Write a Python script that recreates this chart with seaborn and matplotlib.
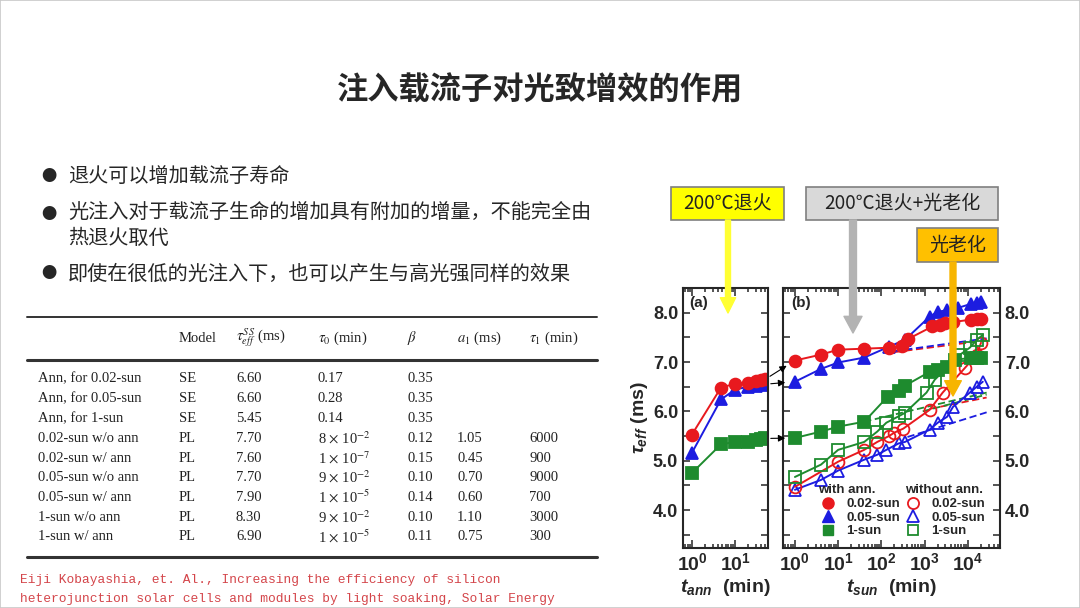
import matplotlib
matplotlib.use("Agg")
import matplotlib.pyplot as plt
import seaborn as sns
import numpy as np
from matplotlib.lines import Line2D
from matplotlib.patches import Rectangle, FancyArrowPatch
from matplotlib.ticker import LogLocator, NullFormatter

W, H = 1080, 608
CJK = ["Noto Sans CJK SC", "DejaVu Sans"]

# ---- slide text ----
TITLE = "注入载流子对光致增效的作用"
BULLETS = ["退火可以增加载流子寿命",
           "光注入对于载流子生命的增加具有附加的增量，不能完全由\n热退火取代",
           "即使在很低的光注入下，也可以产生与高光强同样的效果"]
CITATION = ["Eiji Kobayashia, et. Al., Increasing the efficiency of silicon",
            "heterojunction solar cells and modules by light soaking, Solar Energy"]

# ---- table ----
COL_HEADERS = ["Model", r"$\tau_{eff}^{SS}$ (ms)", r"$\tau_0$ (min)", r"$\beta$",
               r"$a_1$ (ms)", r"$\tau_1$ (min)"]
ROW_NAMES = ["Ann, for 0.02-sun", "Ann, for 0.05-sun", "Ann, for 1-sun",
             "0.02-sun w/o ann", "0.02-sun w/ ann", "0.05-sun w/o ann",
             "0.05-sun w/ ann", "1-sun w/o ann", "1-sun w/ ann"]
MODELS = ["SE", "SE", "SE", "PL", "PL", "PL", "PL", "PL", "PL"]
TAU_SS = ["6.60", "6.60", "5.45", "7.70", "7.60", "7.70", "7.90", "8.30", "6.90"]
TAU_0 = ["0.17", "0.28", "0.14", r"8 $\times$ 10$^{-2}$", r"1 $\times$ 10$^{-7}$",
         r"9 $\times$ 10$^{-2}$", r"1 $\times$ 10$^{-5}$", r"9 $\times$ 10$^{-2}$",
         r"1 $\times$ 10$^{-5}$"]
BETA = ["0.35", "0.35", "0.35", "0.12", "0.15", "0.10", "0.14", "0.10", "0.11"]
A_1 = ["", "", "", "1.05", "0.45", "0.70", "0.60", "1.10", "0.75"]
TAU_1 = ["", "", "", "6000", "900", "9000", "700", "3000", "300"]

# ---- panel (a): annealing ----
ANN_T = [1, 4.7, 10, 20, 30, 40, 50]
ANN_RED = [5.53, 6.48, 6.56, 6.58, 6.62, 6.64, 6.65]
ANN_BLUE = [5.16, 6.24, 6.44, 6.50, 6.52, 6.54, 6.55]
ANN_GREEN = [4.75, 5.33, 5.38, 5.38, 5.41, 5.43, 5.45]

# ---- panel (b): light soaking ----
RED_W_T = [1, 4, 10, 40, 150, 300, 420, 1500, 2200, 3000, 4500, 12000, 16000, 20000]
RED_W = [7.03, 7.15, 7.25, 7.27, 7.29, 7.33, 7.47, 7.72, 7.76, 7.79, 7.81, 7.86, 7.87, 7.87]
BLUE_W_T = [1, 4, 10, 40, 150, 350, 1300, 2000, 3300, 6000, 12000, 16000, 20000]
BLUE_W = [6.60, 6.86, 6.99, 7.09, 7.31, 7.45, 7.92, 8.02, 8.05, 8.10, 8.18, 8.20, 8.22]
GREEN_W_T = [1, 4, 10, 40, 140, 250, 350, 1300, 2000, 3300, 5000, 12000, 16000, 20000]
GREEN_W = [5.46, 5.59, 5.69, 5.79, 6.30, 6.42, 6.52, 6.80, 6.84, 6.90, 7.05, 7.08, 7.08, 7.09]

GREEN_WO_T = [1, 4, 10, 40, 80, 130, 250, 350, 1100, 1700, 6600, 11000, 16000, 22000]
GREEN_WO = [4.67, 4.92, 5.22, 5.38, 5.59, 5.77, 5.90, 5.97, 6.38, 6.64, 7.15, 7.29, 7.45, 7.55]
RED_WO_T = [1, 10, 40, 80, 150, 200, 320, 1300, 2600, 8500, 16000, 20000]
RED_WO = [4.47, 4.98, 5.22, 5.38, 5.50, 5.57, 5.65, 6.03, 6.38, 6.88, 7.15, 7.39]
BLUE_WO_T = [1, 4, 10, 40, 80, 130, 250, 350, 1300, 2000, 3300, 4500, 11000, 16000, 22000]
BLUE_WO = [4.41, 4.61, 4.80, 5.02, 5.12, 5.22, 5.35, 5.38, 5.63, 5.77, 5.89, 6.09, 6.38, 6.50, 6.60]

# dashed power-law fits (end points)
DASH_T_BLUE_W, DASH_BLUE_W = [200, 27000], [7.22, 7.48]
DASH_T_RED_W, DASH_RED_W = [200, 27000], [7.20, 7.44]
DASH_T_GREEN_W, DASH_GREEN_W = [40, 27000], [5.79, 6.38]
DASH_T_GREEN_WO, DASH_GREEN_WO = [900, 27000], [6.00, 6.34]
DASH_T_RED_WO, DASH_RED_WO = [1300, 27000], [6.05, 6.28]
DASH_T_BLUE_WO, DASH_BLUE_WO = [400, 27000], [5.48, 5.98]

Y_TICKS = [4.0, 5.0, 6.0, 7.0, 8.0]
Y_MINOR = [3.5, 4.5, 5.5, 6.5, 7.5]

RED, BLUE, GREEN = "#e8191e", "#1c1ce0", "#1e8b2e"


def fx(x):
    return x / W


def fy(y):
    return 1 - y / H


def draw_series(ax, t, y, color, marker, filled, ms=8.5):
    sns.lineplot(x=t, y=y, ax=ax, color=color, marker=marker, markersize=ms,
                 markerfacecolor=color if filled else "none",
                 markeredgecolor=color, markeredgewidth=1.3,
                 linewidth=1.4, estimator=None)


def draw_dash(ax, t, y, color):
    sns.lineplot(x=t, y=y, ax=ax, color=color, linewidth=1.3,
                 linestyle=(0, (4, 2)), estimator=None)


def style_axis(ax, xlim, xticks, left_labels):
    ax.set_xscale("log")
    ax.set_xlim(*xlim)
    ax.set_ylim(3.23, 8.5)
    ax.set_xticks(xticks, labels=[r"$\mathbf{10^{%d}}$" % np.log10(v) for v in xticks],
                  fontsize=14)
    ax.xaxis.set_minor_locator(LogLocator(base=10, subs=np.arange(2, 10)))
    ax.xaxis.set_minor_formatter(NullFormatter())
    ax.set_yticks(Y_TICKS, labels=["%.1f" % v for v in Y_TICKS],
                  fontsize=13, fontweight="bold", family="Liberation Sans")
    ax.set_yticks(Y_MINOR, minor=True)
    ax.tick_params(axis="both", which="both", direction="in", top=True,
                   right=True, width=1.1, labelleft=left_labels,
                   labelright=not left_labels)
    ax.tick_params(axis="y", which="both", length=5)
    ax.tick_params(axis="x", which="major", length=6, pad=4)
    ax.tick_params(axis="x", which="minor", length=3)
    for s in ax.spines.values():
        s.set_linewidth(1.5)
        s.set_visible(True)


sns.set_style("ticks")
plt.rcParams["font.family"] = CJK
plt.rcParams["mathtext.fontset"] = "custom"
plt.rcParams["mathtext.rm"] = "Liberation Sans:bold"
plt.rcParams["mathtext.bf"] = "Liberation Sans:bold"
plt.rcParams["mathtext.it"] = "Liberation Sans:bold:italic"

fig = plt.figure(figsize=(W / 100, H / 100), dpi=100)
fig.patch.set_facecolor("white")
fig.add_artist(Rectangle((0, 0), 1, 1, transform=fig.transFigure, fill=False,
                         edgecolor="#c8c8c8", linewidth=1.2))

# title and bullets
fig.text(0.5, fy(90), TITLE, ha="center", va="center", fontsize=22.5,
         fontweight="black", family=CJK)
bullet_y = [176, 214, 274]
for yy, txt in zip(bullet_y, BULLETS):
    fig.text(fx(49), fy(yy), "●", ha="center", va="center", fontsize=11,
             family=CJK)
    if "\n" in txt:
        fig.text(fx(68), fy(yy - 12), txt, ha="left", va="top", fontsize=14.5,
                 family=CJK, linespacing=1.3)
    else:
        fig.text(fx(68), fy(yy), txt, ha="left", va="center", fontsize=14.5,
                 family=CJK)

# table
serif = dict(family="Liberation Serif", fontsize=10.5, color="#222222",
             va="center", math_fontfamily="stix")
col_x = [179, 236, 318, 407, 457, 529]
fig.add_artist(Line2D([fx(27), fx(597)], [fy(317), fy(317)], color="#333333", lw=1.4))
fig.add_artist(Line2D([fx(27), fx(597)], [fy(360), fy(360)], color="#333333", lw=2.2))
fig.add_artist(Line2D([fx(27), fx(597)], [fy(557), fy(557)], color="#333333", lw=2.2))
for cx, hd in zip(col_x, COL_HEADERS):
    fig.text(fx(cx), fy(338), hd, ha="left", **serif)
for i, name in enumerate(ROW_NAMES):
    ry = fy(379 + 19.75 * i)
    cells = [MODELS[i], TAU_SS[i], TAU_0[i], BETA[i], A_1[i], TAU_1[i]]
    fig.text(fx(38), ry, name, ha="left", **serif)
    for cx, c in zip(col_x, cells):
        if c:
            fig.text(fx(cx), ry, c, ha="left", **serif)

for k, line in enumerate(CITATION):
    fig.text(fx(20), fy(580 + 19 * k), line, ha="left", va="center",
             family="Liberation Mono", fontsize=9.3, color="#d4454a")

# chart panels
ax_a = fig.add_axes([fx(683), fy(548), (768 - 683) / W, (548 - 288) / H])
ax_b = fig.add_axes([fx(783), fy(548), (1000 - 783) / W, (548 - 288) / H])

draw_series(ax_a, ANN_T, ANN_GREEN, GREEN, "s", True, 8)
draw_series(ax_a, ANN_T, ANN_BLUE, BLUE, "^", True)
draw_series(ax_a, ANN_T, ANN_RED, RED, "o", True)

draw_dash(ax_b, DASH_T_BLUE_WO, DASH_BLUE_WO, BLUE)
draw_dash(ax_b, DASH_T_RED_WO, DASH_RED_WO, RED)
draw_dash(ax_b, DASH_T_GREEN_WO, DASH_GREEN_WO, GREEN)
draw_dash(ax_b, DASH_T_GREEN_W, DASH_GREEN_W, GREEN)
draw_dash(ax_b, DASH_T_RED_W, DASH_RED_W, RED)
draw_dash(ax_b, DASH_T_BLUE_W, DASH_BLUE_W, BLUE)
draw_series(ax_b, BLUE_WO_T, BLUE_WO, BLUE, "^", False)
draw_series(ax_b, RED_WO_T, RED_WO, RED, "o", False)
draw_series(ax_b, GREEN_WO_T, GREEN_WO, GREEN, "s", False, 8)
draw_series(ax_b, GREEN_W_T, GREEN_W, GREEN, "s", True, 8)
draw_series(ax_b, BLUE_W_T, BLUE_W, BLUE, "^", True)
draw_series(ax_b, RED_W_T, RED_W, RED, "o", True)

style_axis(ax_a, (0.62, 58), [1, 10], True)
style_axis(ax_b, (0.53, 55000), [1, 10, 100, 1000, 10000], False)

ax_a.set_ylabel(r"$\tau_{eff}$ (ms)", fontsize=14, fontweight="bold",
                family="Liberation Sans", labelpad=2)
ax_a.set_xlabel(r"$t_{ann}$  (min)", fontsize=14, fontweight="bold",
                family="Liberation Sans", labelpad=1)
ax_b.set_xlabel(r"$t_{sun}$  (min)", fontsize=14, fontweight="bold",
                family="Liberation Sans", labelpad=1)
ax_b.set_ylabel("")
ax_a.text(0.07, 0.97, "(a)", transform=ax_a.transAxes, ha="left", va="top",
          fontsize=11, fontweight="bold", family="Liberation Sans")
ax_b.text(0.04, 0.97, "(b)", transform=ax_b.transAxes, ha="left", va="top",
          fontsize=11, fontweight="bold", family="Liberation Sans")

# connector arrows between panels
for ya, tb, yb in [(ANN_RED[-1], RED_W_T[0], RED_W[0]),
                   (ANN_BLUE[-1], BLUE_W_T[0], BLUE_W[0]),
                   (ANN_GREEN[-1], GREEN_W_T[0], GREEN_W[0])]:
    ax_b.annotate("", xy=(tb, yb), xycoords=ax_b.transData,
                  xytext=(ANN_T[-1], ya), textcoords=ax_a.transData,
                  arrowprops=dict(arrowstyle="-|>,head_length=0.4,head_width=0.2",
                                  color="black", lw=0.8, shrinkA=4, shrinkB=7),
                  annotation_clip=False)

# legend
handles = [Line2D([], [], ls="none", marker="o", color=RED, ms=8),
           Line2D([], [], ls="none", marker="^", color=BLUE, ms=8),
           Line2D([], [], ls="none", marker="s", color=GREEN, ms=7.5),
           Line2D([], [], ls="none", marker="o", color=RED, mfc="none", mew=1.3, ms=8),
           Line2D([], [], ls="none", marker="^", color=BLUE, mfc="none", mew=1.3, ms=8),
           Line2D([], [], ls="none", marker="s", color=GREEN, mfc="none", mew=1.3, ms=7.5)]
labels = ["0.02-sun", "0.05-sun", "1-sun", "0.02-sun", "0.05-sun", "1-sun"]
ax_b.legend(handles, labels, ncol=2, loc="upper left",
            bbox_to_anchor=(fx(821), fy(498)), bbox_transform=fig.transFigure,
            frameon=False, borderpad=0, borderaxespad=0, handlelength=1.0,
            handletextpad=0.9, columnspacing=0.5, labelspacing=0.1,
            prop={"family": "Liberation Sans", "weight": "bold", "size": 9.5})
fig.text(fx(818), fy(490), "with ann.", ha="left", va="center", fontsize=9.5,
         fontweight="bold", family="Liberation Sans")
fig.text(fx(905), fy(490), "without ann.", ha="left", va="center", fontsize=9.5,
         fontweight="bold", family="Liberation Sans")

# callout boxes and big arrows
boxes = [(671, 187, 784, 220, "#ffff00", "200℃退火"),
         (806, 187, 998, 220, "#d9d9d9", "200℃退火+光老化"),
         (917, 228, 998, 262, "#ffc000", "光老化")]
for x0, y0, x1, y1, fc, txt in boxes:
    fig.add_artist(Rectangle((fx(x0), fy(y1)), (x1 - x0) / W, (y1 - y0) / H,
                             transform=fig.transFigure, facecolor=fc,
                             edgecolor="#7f7f7f", linewidth=1.2))
    fig.text(fx((x0 + x1) / 2), fy((y0 + y1) / 2), txt, ha="center",
             va="center", fontsize=13.7, family=CJK, color="#222222")

arrows = [(728, 220, 313, "#ffff33", 3.6, 11, 11),
          (853, 220, 333, "#b3b3b3", 5.0, 13, 12),
          (953, 262, 396, "#f7b500", 4.3, 12, 11)]
for xa, ystart, yend, col, tw, hw, hl in arrows:
    fig.add_artist(FancyArrowPatch(
        (fx(xa), fy(ystart)), (fx(xa), fy(yend)), transform=fig.transFigure,
        arrowstyle="simple,head_length=%g,head_width=%g,tail_width=%g" % (hl, hw, tw),
        mutation_scale=1, color=col, shrinkA=0, shrinkB=0, zorder=10))

fig.savefig("out.png", dpi=100)
